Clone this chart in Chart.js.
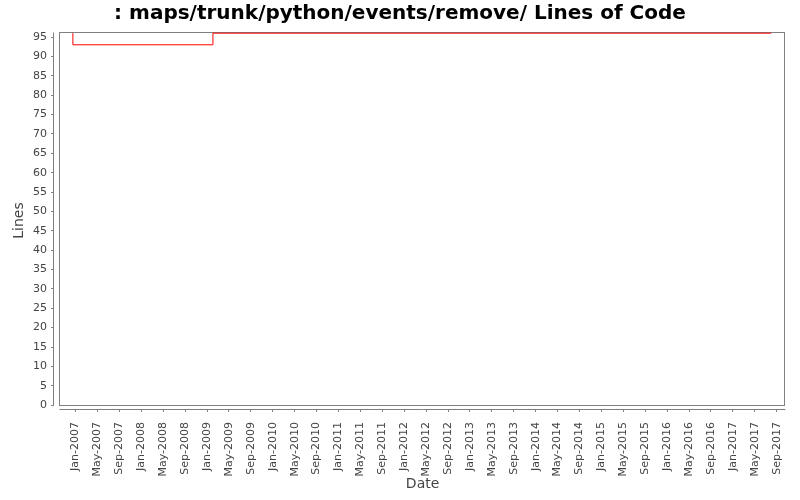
<!DOCTYPE html>
<html>
<head>
<meta charset="utf-8">
<script src="https://cdn.jsdelivr.net/npm/chart.js@4/dist/chart.umd.min.js"></script>
<style>
  body { margin: 0; background: #fff; }
</style>
</head>
<body>
<canvas id="locChart" width="800" height="500"></canvas>
<script>
// data
var dates = ['2006-12-15', '2006-12-16', '2009-02-03', '2017-08-01'];
var lines = [96, 93, 96, 96];

var xTickLabels = [
  'Jan-2007', 'May-2007', 'Sep-2007', 'Jan-2008', 'May-2008', 'Sep-2008',
  'Jan-2009', 'May-2009', 'Sep-2009', 'Jan-2010', 'May-2010', 'Sep-2010',
  'Jan-2011', 'May-2011', 'Sep-2011', 'Jan-2012', 'May-2012', 'Sep-2012',
  'Jan-2013', 'May-2013', 'Sep-2013', 'Jan-2014', 'May-2014', 'Sep-2014',
  'Jan-2015', 'May-2015', 'Sep-2015', 'Jan-2016', 'May-2016', 'Sep-2016',
  'Jan-2017', 'May-2017', 'Sep-2017'
];
var yTicks = [0, 5, 10, 15, 20, 25, 30, 35, 40, 45, 50, 55, 60, 65, 70, 75, 80, 85, 90, 95];

// months counted from Jan-2007
function toMonth(s) {
  var p = s.split('-').map(Number);
  return (p[0] - 2007) * 12 + (p[1] - 1) + (p[2] - 1) / 30;
}

var points = dates.map(function (d, i) { return { x: toMonth(d), y: lines[i] }; });

// axis ranges (plot box sits a few pixels inside the axis lines)
var boxLeft = -3.1, boxRight = 129.6, boxTop = 96;
var xMin = -3.95, xMax = 130.65;
var yMin = -1.0, yMax = 96.3;

var GREY = '#808080';
var TEXT = '#444444';

var plotBox = {
  id: 'plotBox',
  beforeDatasetsDraw: function (chart) {
    var c = chart.ctx, a = chart.chartArea;
    var x = chart.scales.x, y = chart.scales.y;
    var l = Math.round(x.getPixelForValue(boxLeft)) + 0.5;
    var r = Math.round(x.getPixelForValue(boxRight)) - 0.5;
    var b = Math.round(y.getPixelForValue(0)) + 0.5;
    var t = Math.round(y.getPixelForValue(boxTop)) - 0.5;
    c.save();
    c.strokeStyle = GREY;
    c.lineWidth = 1;
    c.strokeRect(l, t, r - l, b - t);
    // separate axis lines
    c.beginPath();
    c.moveTo(Math.round(a.left) - 0.5, t);
    c.lineTo(Math.round(a.left) - 0.5, b);
    c.moveTo(l, Math.round(a.bottom) + 0.5);
    c.lineTo(r + 1, Math.round(a.bottom) + 0.5);
    c.stroke();
    c.restore();
  }
};

var ctx = document.getElementById('locChart').getContext('2d');
var myChart = new Chart(ctx, {
  type: 'line',
  data: {
    datasets: [{
      label: 'Lines',
      data: points,
      borderColor: '#ff0000',
      borderWidth: 1,
      pointRadius: 0,
      stepped: 'before',
      fill: false
    }]
  },
  options: {
    responsive: false,
    animation: false,
    devicePixelRatio: 1,
    layout: { padding: { left: 6, right: 6, top: 0, bottom: 0 } },
    plugins: {
      legend: { display: false },
      tooltip: { enabled: false },
      title: {
        display: true,
        text: ': maps/trunk/python/events/remove/ Lines of Code',
        color: '#000000',
        font: { family: 'DejaVu Sans', size: 20, weight: 'bold', lineHeight: 1.2 },
        padding: { top: 2, bottom: 6 }
      }
    },
    scales: {
      x: {
        type: 'linear',
        min: xMin,
        max: xMax,
        afterFit: function (s) { s.height = 91; },
        afterBuildTicks: function (s) {
          s.ticks = xTickLabels.map(function (_, i) { return { value: i * 4 }; });
        },
        ticks: {
          autoSkip: false,
          maxRotation: 90,
          minRotation: 90,
          padding: 10,
          color: TEXT,
          font: { family: 'DejaVu Sans', size: 11 },
          callback: function (v) { return xTickLabels[Math.round(v / 4)]; }
        },
        grid: { drawOnChartArea: false, drawTicks: true, tickLength: 3, color: GREY },
        border: { display: false },
        title: {
          display: true,
          text: 'Date',
          color: TEXT,
          font: { family: 'DejaVu Sans', size: 14 },
          padding: { top: 0, bottom: 7 }
        }
      },
      y: {
        type: 'linear',
        min: yMin,
        max: yMax,
        afterFit: function (s) { s.width = 48; },
        afterBuildTicks: function (s) {
          s.ticks = yTicks.map(function (v) { return { value: v }; });
        },
        ticks: {
          padding: 4,
          color: TEXT,
          font: { family: 'DejaVu Sans', size: 11 }
        },
        grid: { drawOnChartArea: false, drawTicks: true, tickLength: 3, color: GREY },
        border: { display: false },
        title: {
          display: true,
          text: 'Lines',
          color: TEXT,
          font: { family: 'DejaVu Sans', size: 14 },
          padding: { top: 5, bottom: 0 }
        }
      }
    }
  },
  plugins: [plotBox]
});
</script>
</body>
</html>
